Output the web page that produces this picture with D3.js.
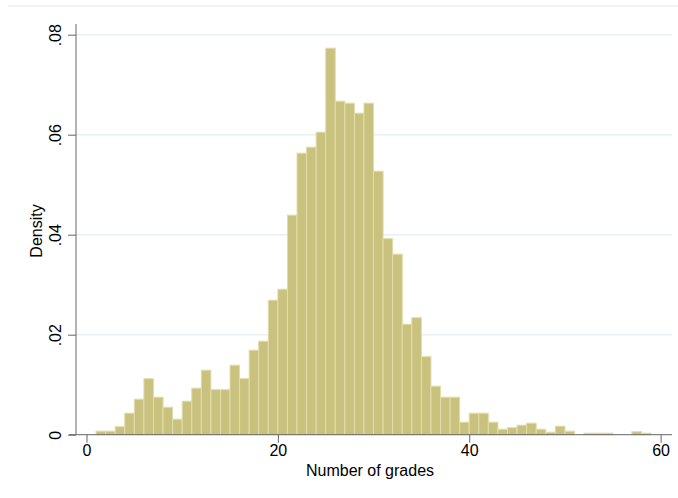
<!DOCTYPE html>
<html>
<head>
<meta charset="utf-8">
<script src="https://cdn.jsdelivr.net/npm/d3@7"></script>
<style>
  body { margin: 0; background: #fff; }
  text { font-family: "Liberation Sans", Arial, sans-serif; }
</style>
</head>
<body>
<script>
// histogram bins: left edge, width 1
const binStarts = d3.range(1, 59);
const densities = [
  0.0007, 0.0007, 0.0016, 0.0043, 0.0071, 0.0112, 0.0075, 0.0055, 0.0031, 0.0067,
  0.0093, 0.0129, 0.0090, 0.0090, 0.0139, 0.0112, 0.0169, 0.0187, 0.0269, 0.0291,
  0.0439, 0.0563, 0.0575, 0.0605, 0.0773, 0.0667, 0.0663, 0.0643, 0.0663, 0.0527,
  0.0392, 0.0361, 0.0221, 0.0234, 0.0156, 0.0097, 0.0075, 0.0075, 0.0025, 0.0043,
  0.0043, 0.0025, 0.0011, 0.0014, 0.0019, 0.0023, 0.0011, 0.0005, 0.0017, 0.0007,
  0, 0.0003, 0.0003, 0.0003, 0, 0, 0.0006, 0.0003
];
const xTicks = [0, 20, 40, 60];
const yTicks = [0, 0.02, 0.04, 0.06, 0.08];

const W = 678, H = 498;
const svg = d3.select("body").append("svg")
  .attr("width", W)
  .attr("height", H);

// outer graph frame line at top
svg.append("line")
  .attr("x1", 8).attr("x2", W)
  .attr("y1", 6).attr("y2", 6)
  .attr("stroke", "#eeeeee")
  .attr("stroke-width", 1.5);

const plotLeft = 76, plotRight = 672, plotTop = 24, plotBottom = 434.7;

const x = d3.scaleLinear().domain([0, 60]).range([86.5, 660.6]);
const y = d3.scaleLinear().domain([0, 0.08]).range([434.7, 34.7]);

// gridlines
svg.append("g")
  .selectAll("line")
  .data(yTicks.filter(d => d > 0))
  .join("line")
  .attr("x1", plotLeft).attr("x2", plotRight)
  .attr("y1", d => y(d)).attr("y2", d => y(d))
  .attr("stroke", "#e8f0f1")
  .attr("stroke-width", 1.5);

// bars
const bins = binStarts.map((s, i) => ({ x0: s, x1: s + 1, d: densities[i] }));
svg.append("g")
  .selectAll("rect")
  .data(bins.filter(b => b.d > 0))
  .join("rect")
  .attr("x", b => x(b.x0))
  .attr("width", b => x(b.x1) - x(b.x0))
  .attr("y", b => y(b.d))
  .attr("height", b => y(0) - y(b.d))
  .attr("fill", "#c9c17e")
  .attr("stroke", "#e2ddaa")
  .attr("stroke-width", 1);

const fmtY = d => d === 0 ? "0" : d3.format(".2f")(d).replace(/^0/, "");

// y axis
const yAxis = svg.append("g")
  .attr("transform", `translate(${plotLeft},0)`)
  .call(d3.axisLeft(y).tickValues(yTicks).tickSize(8).tickFormat(fmtY));
yAxis.select(".domain").remove();
yAxis.append("line")
  .attr("x1", 0).attr("x2", 0)
  .attr("y1", plotTop).attr("y2", plotBottom)
  .attr("stroke", "#666");
yAxis.selectAll(".tick line").attr("stroke", "#666");
yAxis.selectAll(".tick text")
  .attr("x", 0).attr("dy", 0)
  .attr("transform", "translate(-15,0) rotate(-90)")
  .attr("text-anchor", "middle")
  .attr("fill", "#000")
  .style("font-size", "16px");

// x axis
const xAxis = svg.append("g")
  .attr("transform", `translate(0,${plotBottom})`)
  .call(d3.axisBottom(x).tickValues(xTicks).tickSize(8).tickFormat(d3.format("d")));
xAxis.select(".domain").remove();
xAxis.append("line")
  .attr("x1", 69).attr("x2", plotRight)
  .attr("y1", 0).attr("y2", 0)
  .attr("stroke", "#666");
xAxis.selectAll(".tick line").attr("stroke", "#666");
xAxis.selectAll(".tick text")
  .attr("y", 10).attr("dy", "0.71em")
  .attr("fill", "#000")
  .style("font-size", "16px");

// axis titles
svg.append("text")
  .attr("x", 370).attr("y", 476)
  .attr("text-anchor", "middle")
  .style("font-size", "16px")
  .text("Number of grades");

svg.append("text")
  .attr("transform", "translate(42,231) rotate(-90)")
  .attr("text-anchor", "middle")
  .style("font-size", "16px")
  .text("Density");
</script>
</body>
</html>
